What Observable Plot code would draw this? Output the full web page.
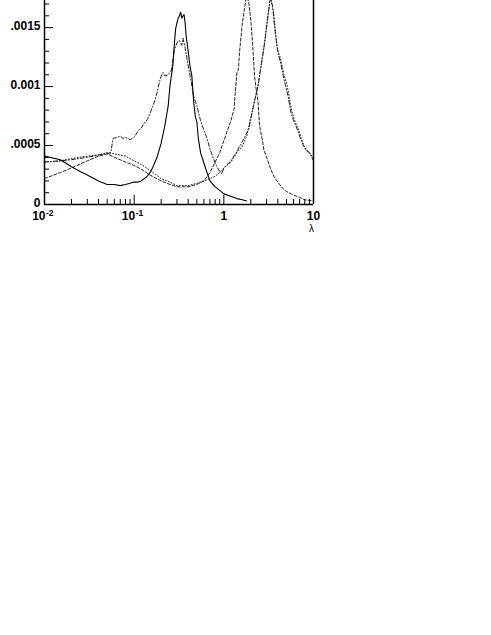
<!DOCTYPE html>
<html>
<head>
<meta charset="utf-8">
<script src="https://cdn.jsdelivr.net/npm/d3@7"></script>
<script src="https://cdn.jsdelivr.net/npm/@observablehq/plot@0.6"></script>
<style>
  html, body { margin: 0; padding: 0; background: #fff; }
  #chart svg { display: block; font-family: "Liberation Sans", Arial, sans-serif; }
</style>
</head>
<body>
<div id="chart"></div>
<script>
// ---- data ----
const lamSolid = [0.01,0.015,0.02,0.025,0.03,0.04,0.05,0.06,0.07,0.08,0.09,0.1,0.11,0.12,0.13,0.14,0.15,0.16,0.18,0.2,0.22,0.24,0.25,0.27,0.28,0.29,0.3,0.31,0.32,0.33,0.34,0.35,0.36,0.37,0.38,0.4,0.42,0.44,0.46,0.48,0.5,0.52,0.55,0.6,0.65,0.7,0.8,0.9,1.0,1.2,1.4,1.6,1.8];
const valSolid = [0.00041,0.00038,0.00032,0.00028,0.00025,0.00020,0.00017,0.00017,0.00016,0.00017,0.00018,0.00019,0.00019,0.00020,0.00022,0.00024,0.00027,0.00031,0.00040,0.00052,0.00067,0.00084,0.00100,0.00118,0.00135,0.00149,0.00154,0.00158,0.00160,0.00163,0.00158,0.00160,0.00161,0.00154,0.00143,0.00130,0.00117,0.00109,0.00088,0.00075,0.00070,0.00056,0.00044,0.00035,0.00027,0.00020,0.00015,0.00012,0.00009,0.00007,0.00005,0.00004,0.00003];

const lamDashDot = [0.01,0.015,0.02,0.03,0.04,0.05,0.055,0.058,0.065,0.07,0.075,0.08,0.09,0.1,0.11,0.12,0.13,0.14,0.15,0.16,0.17,0.18,0.19,0.2,0.21,0.22,0.24,0.26,0.27,0.28,0.3,0.32,0.34,0.35,0.37,0.4,0.43,0.46,0.5,0.55,0.6,0.65,0.7,0.75,0.8,0.85,0.9,0.95,1.0,1.2,1.4,1.6,1.9,2.2,2.4,2.65,2.9,3.1,3.3,3.5,3.7,3.9,4.1,4.3,4.6,4.9,5.2,5.6,6.0,6.5,7.0,7.6,8.2,9.0,10];
const valDashDot = [0.00036,0.00037,0.00038,0.00040,0.00042,0.00043,0.00044,0.00056,0.00057,0.00058,0.00056,0.00057,0.00055,0.00057,0.00062,0.00065,0.00069,0.00072,0.00077,0.00083,0.00088,0.00095,0.00103,0.00109,0.00112,0.00109,0.00110,0.00114,0.00122,0.00131,0.00137,0.00139,0.00135,0.00141,0.00133,0.00118,0.00105,0.00092,0.00084,0.00071,0.00063,0.00056,0.00047,0.00041,0.00035,0.00031,0.00028,0.00026,0.00031,0.00037,0.00045,0.00053,0.00064,0.00088,0.00100,0.00121,0.00141,0.00159,0.00175,0.00168,0.00149,0.00135,0.00126,0.00120,0.00109,0.00100,0.00092,0.00078,0.00071,0.00065,0.00058,0.00051,0.00046,0.00044,0.00037];

const lamDashed = [0.01,0.015,0.02,0.03,0.04,0.05,0.06,0.08,0.1,0.12,0.15,0.2,0.25,0.3,0.4,0.5,0.6,0.7,0.8,0.9,1.0,1.1,1.2,1.3,1.35,1.4,1.45,1.5,1.6,1.7,1.8,1.9,2.0,2.1,2.2,2.3,2.4,2.5,2.7,2.8,3.0,3.3,3.6,4,4.5,5,6,7,8,10];
const valDashed = [0.00022,0.00027,0.00031,0.00037,0.00041,0.00043,0.00040,0.00036,0.00033,0.00030,0.00025,0.00020,0.00017,0.00015,0.00015,0.00017,0.00020,0.00027,0.00036,0.00044,0.00054,0.00063,0.00071,0.00081,0.00098,0.00112,0.00114,0.00130,0.00152,0.00166,0.00178,0.00171,0.00156,0.00135,0.00109,0.00097,0.00088,0.00067,0.00054,0.00046,0.00040,0.00031,0.00024,0.00019,0.00014,0.00011,0.00008,0.00006,0.00004,0.00003];

const lamDotted = [0.01,0.015,0.02,0.03,0.04,0.05,0.06,0.08,0.1,0.12,0.15,0.2,0.25,0.3,0.4,0.5,0.6,0.7,0.8,0.9,1.0,1.2,1.4,1.6,1.8,2.0,2.2,2.4,2.6,2.8,3.0,3.2,3.3,3.4,3.6,3.8,4.0,4.2,4.4,4.7,5.0,5.3,5.6,6.0,6.4,6.8,7.3,7.8,8.3,8.8,9.4,10];
const valDotted = [0.00036,0.00037,0.00039,0.00041,0.00042,0.00044,0.00043,0.00041,0.00037,0.00034,0.00029,0.00022,0.00019,0.00016,0.00016,0.00018,0.00020,0.00022,0.00024,0.00027,0.00031,0.00036,0.00044,0.00049,0.00058,0.00074,0.00088,0.00100,0.00118,0.00133,0.00152,0.00168,0.00176,0.00172,0.00162,0.00143,0.00130,0.00126,0.00120,0.00110,0.00103,0.00094,0.00082,0.00074,0.00068,0.00064,0.00056,0.00050,0.00047,0.00045,0.00042,0.00039];

const yTickValues = [0, 0.0005, 0.001, 0.0015];
const yTickLabels = ["0", ".0005", "0.001", ".0015"];
const xPowValues = [0.01, 0.1];
const xPowBase = ["10", "10"];
const xPowExp = ["-2", "-1"];
const xPlainValues = [1, 10];
const xPlainLabels = ["1", "10"];
const xAxisLabel = "λ";

// ---- derived ticks ----
const xMajor = [...xPowValues, ...xPlainValues];
const xMinor = [0.01, 0.1, 1].flatMap(d => [2,3,4,5,6,7,8,9].map(k => d * k));
const yMinor = d3.range(1, 18).map(i => i * 0.0001).filter(v => !yTickValues.some(t => Math.abs(t - v) < 1e-9));

const W = 491, H = 244, ML = 44, MR = 178, MT = 0, MB = 40;
const plotW = W - ML - MR, plotH = H - MT - MB;
const font = "Liberation Sans, Arial, sans-serif";

const chart = Plot.plot({
  width: W, height: H,
  marginLeft: ML, marginRight: MR, marginTop: MT, marginBottom: MB,
  x: {type: "log", domain: [0.01, 10], axis: null},
  y: {domain: [0, 0.00173], axis: null},
  style: {fontFamily: font, background: "white"},
  marks: [
    // curves
    Plot.line(valDotted, {x: lamDotted, y: valDotted, stroke: "#222", strokeWidth: 1, strokeDasharray: "1,2", clip: true}),
    Plot.line(valDashed, {x: lamDashed, y: valDashed, stroke: "#222", strokeWidth: 1, strokeDasharray: "3,2", clip: true}),
    Plot.line(valDashDot, {x: lamDashDot, y: valDashDot, stroke: "#222", strokeWidth: 1, strokeDasharray: "4,2,1,2", clip: true}),
    Plot.line(valSolid, {x: lamSolid, y: valSolid, stroke: "#000", strokeWidth: 1.1, clip: true}),
    // x ticks (inside)
    Plot.ruleX(xMajor, {stroke: "#000", strokeWidth: 1, insetTop: plotH - 9}),
    Plot.ruleX(xMinor, {stroke: "#000", strokeWidth: 1, insetTop: plotH - 5}),
    // y ticks (inside)
    Plot.ruleY(yTickValues, {stroke: "#000", strokeWidth: 1, insetRight: plotW - 9}),
    Plot.ruleY(yMinor, {stroke: "#000", strokeWidth: 1, insetRight: plotW - 5}),
    // frame lines
    Plot.ruleX([0.01, 10], {stroke: "#000", strokeWidth: 1.5}),
    Plot.ruleY([0], {stroke: "#000", strokeWidth: 1.5}),
    // y labels
    Plot.text(yTickValues, {y: d => d, text: (d, i) => yTickLabels[i], frameAnchor: "left", textAnchor: "end", dx: -4, dy: -1.5, fontSize: 12, fontWeight: "bold", fill: "#000"}),
    // x labels: powers of ten
    Plot.text(xPowValues, {x: d => d, text: (d, i) => xPowBase[i], frameAnchor: "bottom", textAnchor: "end", dx: 1, dy: 15.5, fontSize: 12, fontWeight: "bold", fill: "#000"}),
    Plot.text(xPowValues, {x: d => d, text: (d, i) => xPowExp[i], frameAnchor: "bottom", textAnchor: "start", dx: 1.5, dy: 11.5, fontSize: 8.5, fontWeight: "bold", fill: "#000"}),
    // x labels: plain
    Plot.text(xPlainValues, {x: d => d, text: (d, i) => xPlainLabels[i], frameAnchor: "bottom", textAnchor: "middle", dy: 15, fontSize: 12, fontWeight: "bold", fill: "#000"}),
    // axis label
    Plot.text([10], {x: d => d, text: [xAxisLabel], frameAnchor: "bottom", textAnchor: "middle", dx: -2, dy: 27.5, fontSize: 10, fill: "#000"})
  ]
});
document.getElementById("chart").appendChild(chart);
</script>
</body>
</html>
